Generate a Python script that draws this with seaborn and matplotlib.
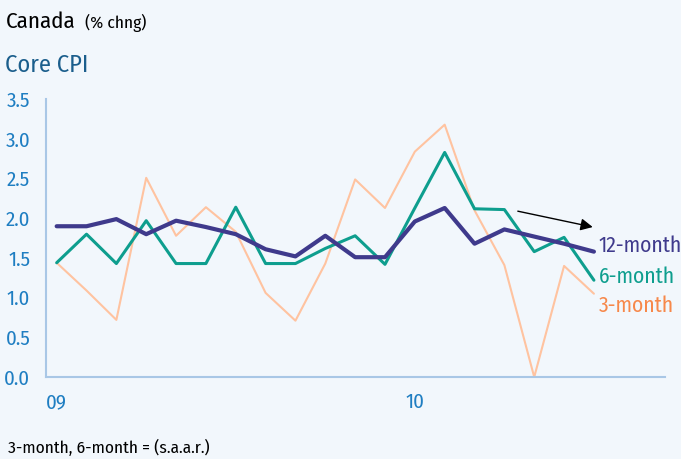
import matplotlib
matplotlib.use("Agg")
import matplotlib.pyplot as plt
import numpy as np
import pandas as pd
import seaborn as sns

# Monthly core CPI, Jan 2009 onward (% change)
months = list(range(19))
cpi_12m = [1.90, 1.90, 1.99, 1.80, 1.97, 1.89, 1.80, 1.61, 1.52, 1.78,
           1.51, 1.51, 1.96, 2.13, 1.68, 1.86, 1.77, 1.68, 1.58]
cpi_6m = [1.44, 1.80, 1.43, 1.97, 1.43, 1.43, 2.14, 1.43, 1.43, 1.62,
          1.78, 1.42, 2.13, 2.83, 2.12, 2.11, 1.58, 1.76, 1.22]
cpi_3m = [1.44, 1.09, 0.72, 2.51, 1.78, 2.14, 1.83, 1.06, 0.71, 1.43,
          2.49, 2.13, 2.84, 3.18, 2.10, 1.41, 0.00, 1.40, 1.05]
tick_pos = [0, 12]
tick_labels = ["09", "10"]
y_ticks = [0.0, 0.5, 1.0, 1.5, 2.0, 2.5, 3.0, 3.5]

BG = "#F2F7FC"
AXIS = "#A9C7E6"
TICK_TXT = "#1F7EC2"
PURPLE = "#3F3A8C"
TEAL = "#0E9E8E"
PEACH = "#FFC3A0"
ORANGE = "#F7884A"
FONT = ["Fira Sans Condensed", "Asap Condensed", "DejaVu Sans"]

sns.set_theme(style="white")
plt.rcParams["font.family"] = FONT

df = pd.DataFrame({"month": months, "m12": cpi_12m, "m6": cpi_6m, "m3": cpi_3m})

fig = plt.figure(figsize=(6.81, 4.59), dpi=100, facecolor=BG)
ax = fig.add_axes([0.067, 0.1786, 0.909, 0.6051], facecolor=BG)

sns.lineplot(data=df, x="month", y="m3", ax=ax, color=PEACH, linewidth=1.5)
sns.lineplot(data=df, x="month", y="m6", ax=ax, color=TEAL, linewidth=2.2)
sns.lineplot(data=df, x="month", y="m12", ax=ax, color=PURPLE, linewidth=3.0)

ax.set_xlim(-0.37, 20.37)
ax.set_ylim(0, 3.5)
ax.set_xlabel("")
ax.set_ylabel("")
ax.set_xticks(tick_pos)
ax.set_xticklabels(tick_labels)
ax.set_yticks(y_ticks)
ax.set_yticklabels([f"{v:.1f}" for v in y_ticks])
for side in ("top", "right"):
    ax.spines[side].set_visible(False)
for side in ("left", "bottom"):
    ax.spines[side].set_color(AXIS)
    ax.spines[side].set_linewidth(1.5)
ax.tick_params(axis="both", colors=AXIS, labelcolor=TICK_TXT, labelsize=15,
               length=5, width=1.2, direction="out")
ax.tick_params(axis="x", pad=6)
ax.tick_params(axis="y", pad=6)
ax.grid(False)

# Series labels at the right end of the lines
lab_x = 18.16
ax.text(lab_x, cpi_12m[-1] - 0.01, "12-month", color=PURPLE, fontsize=15.5, va="baseline", ha="left")
ax.text(lab_x, cpi_6m[-1] - 0.04, "6-month", color=TEAL, fontsize=15.5, va="baseline", ha="left")
ax.text(lab_x, cpi_3m[-1] - 0.23, "3-month", color=ORANGE, fontsize=15.5, va="baseline", ha="left")

ax.annotate("", xy=(17.96, 1.89), xytext=(15.45, 2.09),
            arrowprops=dict(arrowstyle="-|>", color="black", lw=1.0,
                            mutation_scale=18, shrinkA=0, shrinkB=0))

fig.text(0.009, 0.939, "Canada", fontsize=16.5, color="black", va="baseline", ha="left")
fig.text(0.125, 0.939, "(% chng)", fontsize=12.5, color="black", va="baseline", ha="left")
fig.text(0.007, 0.8438, "Core CPI", fontsize=17.5, color="#1B5E8C", va="baseline", ha="left")
fig.text(0.012, 0.013, "3-month, 6-month = (s.a.a.r.)", fontsize=12.5, color="black",
         va="baseline", ha="left")

fig.savefig("out.png", dpi=100, facecolor=BG)
